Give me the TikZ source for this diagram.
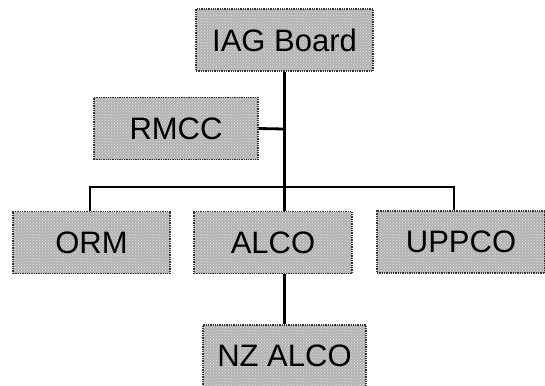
\documentclass[tikz,border=0pt]{standalone}
\usepackage{fontspec}
\setmainfont{Liberation Sans}
\usetikzlibrary{patterns}
\begin{document}
\begin{tikzpicture}[x=1pt,y=-1pt,
  box/.style={draw=black!80, densely dotted, line width=1.3pt,
    preaction={fill=gray!62}, pattern=north east lines, pattern color=white!80!gray,
    minimum height=62pt, inner sep=0pt, font=\fontsize{31}{33}\selectfont},
  link/.style={line width=2.8pt, black}]
\useasboundingbox (0,0) rectangle (545,385);
\node[box, minimum width=177pt] (iag) at (284.5,40) {IAG Board};
\node[box, minimum width=164pt] (rmcc) at (176,128.5) {RMCC};
\node[box, minimum width=157pt] (orm) at (91.5,242.5) {ORM};
\node[box, minimum width=158pt] (alco) at (273,242.5) {ALCO};
\node[box, minimum width=168pt] (uppco) at (461,242) {UPPCO};
\node[box, minimum width=163pt] (nz) at (284.5,356) {NZ ALCO};
\coordinate (bar) at (284,187);
\coordinate (rj) at (284,129);
\draw[link] (iag.south) -- (iag.south |- alco.north);
\draw[link] (rmcc.east) -- (rj);
\draw[link] ([xshift=-1.5pt]orm.north) -- ([xshift=-1.5pt]orm.north |- bar) -- ([xshift=-7pt]uppco.north |- bar) -- ([xshift=-7pt]uppco.north);
\draw[link] (alco.south -| iag.south) -- (nz.north);
\end{tikzpicture}
\end{document}
